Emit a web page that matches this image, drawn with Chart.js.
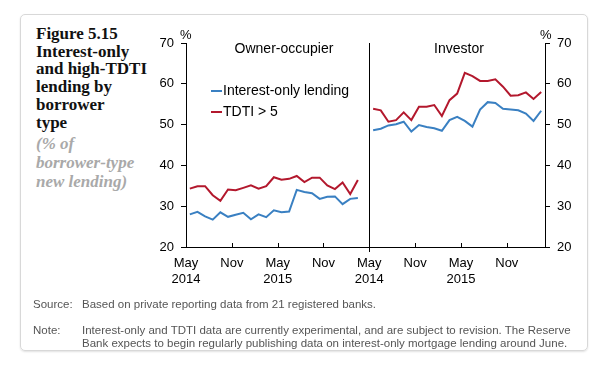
<!DOCTYPE html>
<html>
<head>
<meta charset="utf-8">
<script src="https://cdn.jsdelivr.net/npm/chart.js@4/dist/chart.umd.min.js"></script>
<style>
  body { margin: 0; width: 600px; height: 366px; background: #fff; position: relative; overflow: hidden;
         font-family: "Liberation Sans", Arial, sans-serif; }
  .card { position: absolute; left: 20px; top: 14px; width: 566px; height: 335px; border: 1px solid #d8d8d8;
          border-radius: 5px; box-shadow: 0 1px 2px rgba(0,0,0,0.12); }
  .title { position: absolute; left: 36px; top: 25px; width: 130px; font-family: "Liberation Serif", serif;
           font-weight: bold; font-size: 17px; line-height: 17.7px; color: #111; }
  .subtitle { margin-top: 2.5px; font-style: italic; color: #a9a9a9; line-height: 19px; }
  canvas { position: absolute; left: 0; top: 0; }
  .lbl { position: absolute; white-space: nowrap; color: #000; }
  .panel { font-size: 14px; line-height: 16px; width: 200px; text-align: center; top: 40px; }
  .pct { font-size: 13px; line-height: 14px; top: 28px; }
  .leg { font-size: 14px; line-height: 16px; left: 211px; }
  .leg span { display: inline-block; width: 11px; height: 2px; vertical-align: middle; margin-right: 1px; margin-top: -1px; }
  .foot { position: absolute; font-size: 11.5px; line-height: 12.7px; color: #555; white-space: nowrap; }
</style>
</head>
<body>
<div class="card"></div>
<div class="title">Figure 5.15<br>Interest-only<br>and high-TDTI<br>lending by<br>borrower<br>type
  <div class="subtitle">(% of<br>borrower-type<br>new lending)</div>
</div>
<canvas id="chart" width="600" height="366"></canvas>
<div class="lbl panel" style="left:184px">Owner-occupier</div>
<div class="lbl panel" style="left:359px">Investor</div>
<div class="lbl pct" style="left:180px">%</div>
<div class="lbl pct" style="left:540px">%</div>
<div class="lbl leg" style="top:82px"><span style="background:#3a80c2"></span>Interest-only lending</div>
<div class="lbl leg" style="top:103px"><span style="background:#b3182d"></span>TDTI &gt; 5</div>
<div class="foot" style="left:33px; top:298px">Source:</div>
<div class="foot" style="left:82px; top:298px">Based on private reporting data from 21 registered banks.</div>
<div class="foot" style="left:33px; top:324px">Note:</div>
<div class="foot" style="left:82px; top:324px">Interest-only and TDTI data are currently experimental, and are subject to revision. The Reserve<br>Bank expects to begin regularly publishing data on interest-only mortgage lending around June.</div>

<script>
// monthly observations, May 2014 - Mar 2016
const months = ['May-14','Jun-14','Jul-14','Aug-14','Sep-14','Oct-14','Nov-14','Dec-14','Jan-15','Feb-15','Mar-15','Apr-15',
  'May-15','Jun-15','Jul-15','Aug-15','Sep-15','Oct-15','Nov-15','Dec-15','Jan-16','Feb-16','Mar-16'];

const ownerIO = [28.0, 28.6, 27.5, 26.7, 28.5, 27.4, 27.9, 28.4, 26.8, 28.0, 27.3, 29.0,
  28.5, 28.7, 34.0, 33.5, 33.2, 31.8, 32.3, 32.4, 30.5, 31.8, 32.0];
const ownerTDTI = [34.3, 34.9, 34.9, 32.7, 31.3, 34.1, 33.9, 34.5, 35.1, 34.3, 34.9, 37.1,
  36.5, 36.7, 37.4, 35.9, 37.0, 37.0, 35.1, 34.2, 35.8, 33.0, 36.4];
const investorIO = [48.6, 49.0, 49.8, 50.1, 50.7, 48.3, 49.9, 49.4, 49.1, 48.5, 51.1, 51.9,
  50.9, 49.5, 53.7, 55.5, 55.3, 53.9, 53.7, 53.5, 52.7, 50.9, 53.4];
const investorTDTI = [53.9, 53.5, 50.7, 51.1, 53.0, 51.1, 54.4, 54.4, 54.8, 52.1, 56.0, 57.6,
  62.7, 61.9, 60.7, 60.7, 61.1, 59.3, 57.1, 57.2, 57.9, 56.3, 58.0];

// x-axis: months since May 2014, investor panel starts at 24
const tickValues = [0, 6, 12, 18, 24, 30, 36, 42];
const tickLabels = [['May', '2014'], 'Nov', ['May', '2015'], 'Nov', ['May', '2014'], 'Nov', ['May', '2015'], 'Nov'];
const yTicks = [20, 30, 40, 50, 60, 70];

const BLUE = '#3a80c2';
const RED = '#b3182d';

const toPoints = (vals, offset) => vals.map((v, i) => ({ x: offset + i + 0.5, y: v }));

Chart.defaults.font.family = '"Liberation Sans", Arial, sans-serif';
Chart.defaults.font.size = 13;
Chart.defaults.color = '#000';

// short tick marks pointing up into the plot on the x axis
const innerTicks = {
  id: 'innerTicks',
  afterDatasetsDraw(chart) {
    const x = chart.scales.x, c = chart.ctx, b = chart.chartArea.bottom;
    c.save();
    c.strokeStyle = '#000';
    c.lineWidth = 1;
    x.ticks.forEach(t => {
      const px = Math.round(x.getPixelForValue(t.value)) + 0.5;
      c.beginPath();
      c.moveTo(px, b);
      c.lineTo(px, b - 4);
      c.stroke();
    });
    c.restore();
  }
};

const lineDs = (label, data, color) => ({
  label, data, borderColor: color, backgroundColor: color,
  borderWidth: 2, pointRadius: 0, tension: 0, fill: false
});

const yAxis = (pos) => ({
  position: pos,
  min: 20, max: 70,
  afterBuildTicks: s => { s.ticks = yTicks.map(v => ({ value: v })); },
  afterFit: s => { s.width = 40; },
  ticks: { padding: 7, font: { size: 13 } },
  grid: { drawOnChartArea: false, tickLength: 5, tickColor: '#000' },
  border: { color: '#000', width: 1 }
});

new Chart(document.getElementById('chart'), {
  type: 'line',
  data: {
    datasets: [
      lineDs('Owner IO', toPoints(ownerIO, 0), BLUE),
      lineDs('Owner TDTI', toPoints(ownerTDTI, 0), RED),
      lineDs('Investor IO', toPoints(investorIO, 24), BLUE),
      lineDs('Investor TDTI', toPoints(investorTDTI, 24), RED)
    ]
  },
  options: {
    responsive: false,
    animation: false,
    layout: { padding: { left: 146, right: 15, top: 43, bottom: 79 } },
    plugins: { legend: { display: false }, tooltip: { enabled: false } },
    scales: {
      x: {
        type: 'linear', min: 0, max: 47,
        afterBuildTicks: s => { s.ticks = tickValues.map(v => ({ value: v })); },
        afterFit: s => { s.height = 40; },
        ticks: {
          autoSkip: false, maxRotation: 0, padding: 4, font: { size: 13, lineHeight: 1.2 },
          callback: (v) => tickLabels[tickValues.indexOf(v)]
        },
        grid: {
          color: ctx => (ctx.tick && ctx.tick.value === 24) ? '#000' : 'transparent',
          tickColor: ctx => (ctx.tick && ctx.tick.value === 24) ? '#000' : 'transparent',
          tickLength: 5
        },
        border: { color: '#000', width: 1 }
      },
      y: yAxis('left'),
      y2: yAxis('right')
    }
  },
  plugins: [innerTicks]
});
</script>
</body>
</html>
